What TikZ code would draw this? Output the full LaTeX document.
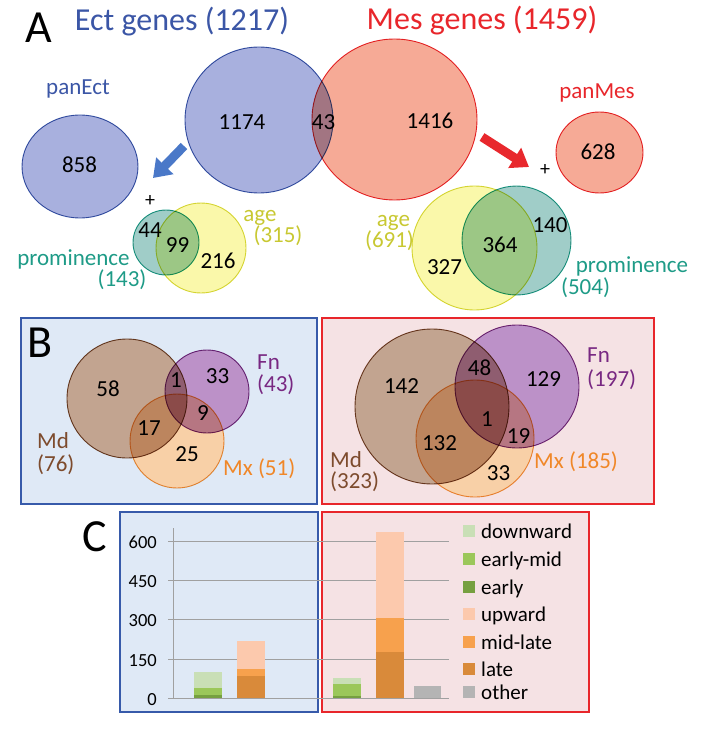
\documentclass[tikz,border=0pt]{standalone}
\usepackage{fontspec}
\setmainfont{Carlito}
\usetikzlibrary{shapes.geometric,arrows.meta}
\definecolor{ectfill}{RGB}{168,176,222}
\definecolor{ectline}{RGB}{60,90,170}
\definecolor{ecttext}{RGB}{59,86,166}
\definecolor{mesfill}{RGB}{246,170,150}
\definecolor{mesline}{RGB}{232,40,45}
\definecolor{mestext}{RGB}{232,38,43}
\definecolor{tealfill}{RGB}{160,205,200}
\definecolor{tealline}{RGB}{30,160,140}
\definecolor{tealtext}{RGB}{30,155,135}
\definecolor{yelfill}{RGB}{250,248,170}
\definecolor{yelline}{RGB}{215,215,60}
\definecolor{yeltext}{RGB}{200,200,50}
\definecolor{bluebox}{RGB}{223,233,246}
\definecolor{blueboxline}{RGB}{55,90,170}
\definecolor{redbox}{RGB}{245,226,228}
\definecolor{redboxline}{RGB}{232,38,43}
\definecolor{mdfill}{RGB}{194,164,144}
\definecolor{mdline}{RGB}{120,70,40}
\definecolor{mdtext}{RGB}{125,75,45}
\definecolor{fnfill}{RGB}{188,145,200}
\definecolor{fnline}{RGB}{125,45,130}
\definecolor{fntext}{RGB}{120,40,130}
\definecolor{mxfill}{RGB}{248,208,167}
\definecolor{mxline}{RGB}{240,150,60}
\definecolor{mxtext}{RGB}{240,135,40}
\definecolor{cdown}{RGB}{201,223,182}
\definecolor{cearlymid}{RGB}{155,199,90}
\definecolor{cearly}{RGB}{118,160,64}
\definecolor{cup}{RGB}{252,201,173}
\definecolor{cmidlate}{RGB}{247,161,77}
\definecolor{clate}{RGB}{217,138,58}
\definecolor{cother}{RGB}{180,180,180}
\definecolor{gridc}{RGB}{160,160,160}
\definecolor{arrblue}{RGB}{74,120,200}
\begin{document}
\begin{tikzpicture}[x=1pt,y=-1pt,
  venn/.style={ellipse, inner sep=0pt, outer sep=0pt, line width=0.9pt},
  num/.style={anchor=base, font=\fontsize{23}{27}\selectfont, text=black, inner sep=0pt},
  lab/.style={anchor=base, font=\fontsize{23}{27}\selectfont, inner sep=0pt},
  labw/.style={anchor=base west, font=\fontsize{23}{27}\selectfont, inner sep=0pt},
  title/.style={anchor=base, font=\fontsize{32}{36}\selectfont, inner sep=0pt},
  panel/.style={anchor=base, font=\fontsize{46}{50}\selectfont, inner sep=0pt},
  tick/.style={anchor=base east, font=\fontsize{18.5}{22}\selectfont, inner sep=0pt},
  legtext/.style={anchor=base west, font=\fontsize{21}{25}\selectfont, inner sep=0pt},
  legbox/.style={minimum size=12pt, inner sep=0pt, outer sep=0pt},
  bigarrow/.style={line width=9pt, -{Triangle[width=23pt,length=17pt]}},
  box/.style={line width=1.8pt}
]
\useasboundingbox (0,0) rectangle (704,730);

% ---------- Panel A ----------
\node[panel] (pA) at (39,43) {A};
\node[title, text=ecttext] (ecttitle) at (182,31) {Ect genes (1217)};
\node[title, text=mestext] (mestitle) at (482,30) {Mes genes (1459)};

\begin{scope}[blend mode=multiply]
\node[venn, fill=ectfill, draw=ectline, minimum width=148pt, minimum height=146pt] (ect) at (259,120) {};
\node[venn, fill=mesfill, draw=mesline, minimum width=165pt, minimum height=161pt] (mes) at (394.5,119.5) {};
\node[venn, fill=ectfill, draw=ectline, minimum width=116pt, minimum height=103pt] (panect) at (80,166.5) {};
\node[venn, fill=mesfill, draw=mesline, minimum width=87pt, minimum height=81pt] (panmes) at (599.5,152.5) {};
\node[venn, fill=yelfill, draw=yelline, minimum width=90pt, minimum height=90pt] (ectage) at (201,248) {};
\node[venn, fill=tealfill, draw=tealline, minimum width=66pt, minimum height=65pt] (ectprom) at (166,242.5) {};
\node[venn, fill=yelfill, draw=yelline, minimum width=125pt, minimum height=124pt] (mesage) at (474.5,248) {};
\node[venn, fill=tealfill, draw=tealline, minimum width=109pt, minimum height=109pt] (mesprom) at (516.5,240.5) {};
\end{scope}

\node[num] (n1174) at (242,130) {1174};
\node[num] (n43) at (323.5,130) {43};
\node[num] (n1416) at (430,129) {1416};
\node[num] (n858) at (79.5,172.5) {858};
\node[num] (n628) at (598,160) {628};
\node[num] (n44) at (150,237) {44};
\node[num] (n99) at (177.5,252) {99};
\node[num] (n216) at (218,268) {216};
\node[num] (n140) at (550,232) {140};
\node[num] (n364) at (500,252) {364};
\node[num] (n327) at (444.5,274) {327};

\node[lab, text=ecttext] (lpanect) at (78,95) {panEct};
\node[lab, text=mestext] (lpanmes) at (597,99) {panMes};
\node[lab, text=yeltext] (lectage) at (260,221) {age};
\node[lab, text=yeltext] (lectage2) at (278,242) {(315)};
\node[lab, text=tealtext] (lectprom) at (73.5,265) {prominence};
\node[lab, text=tealtext] (lectprom2) at (122,286) {(143)};
\node[lab, text=yeltext] (lmesage) at (393.5,226) {age};
\node[lab, text=yeltext] (lmesage2) at (389.5,247) {(691)};
\node[lab, text=tealtext] (lmesprom) at (632,272) {prominence};
\node[lab, text=tealtext] (lmesprom2) at (585.5,294) {(504)};

\node[font=\fontsize{20}{24}\selectfont, inner sep=0pt] (plus1) at (150,201) {+};
\node[font=\fontsize{20}{24}\selectfont, inner sep=0pt] (plus2) at (545,170) {+};

\coordinate (ea1) at (184,146);
\coordinate (ea2) at (153,178);
\coordinate (ma1) at (482,137);
\coordinate (ma2) at (529,167);
\draw[bigarrow, arrblue] (ea1) -- (ea2);
\draw[bigarrow, mesline] (ma1) -- (ma2);

% ---------- Panel B ----------
\draw[box, fill=bluebox, draw=blueboxline] (21,318) rectangle (317,504);
\draw[box, fill=redbox, draw=redboxline] (322,318) rectangle (654,504);
\node[panel] (pB) at (40,357) {B};

% white underlay so that circle colours are not tinted by the boxes
\fill[white] (127,398.5) ellipse[x radius=60pt, y radius=59.5pt];
\fill[white] (207,391.5) ellipse[x radius=42pt, y radius=41.5pt];
\fill[white] (177,441) circle[radius=47pt];
\fill[white] (432,406.5) ellipse[x radius=77pt, y radius=77.5pt];
\fill[white] (517,386.5) ellipse[x radius=62pt, y radius=61.5pt];
\fill[white] (475,438.5) ellipse[x radius=59pt, y radius=58.5pt];

\begin{scope}[blend mode=multiply]
\node[venn, fill=mdfill, draw=mdline, minimum width=120pt, minimum height=119pt] (emd) at (127,398.5) {};
\node[venn, fill=fnfill, draw=fnline, minimum width=84pt, minimum height=83pt] (efn) at (207,391.5) {};
\node[venn, fill=mxfill, draw=mxline, minimum width=94pt, minimum height=94pt] (emx) at (177,441) {};
\node[venn, fill=mdfill, draw=mdline, minimum width=154pt, minimum height=155pt] (mmd) at (432,406.5) {};
\node[venn, fill=fnfill, draw=fnline, minimum width=124pt, minimum height=123pt] (mfn) at (517,386.5) {};
\node[venn, fill=mxfill, draw=mxline, minimum width=118pt, minimum height=117pt] (mmx) at (475,438.5) {};
\end{scope}

\node[num] (b58) at (108,396) {58};
\node[num] (b1) at (176,387) {1};
\node[num] (b33) at (217.5,383) {33};
\node[num] (b9) at (203,420) {9};
\node[num] (b17) at (149,435) {17};
\node[num] (b25) at (187,461) {25};
\node[labw, text=mdtext] (bmd) at (37,448) {Md};
\node[labw, text=mdtext] (bmd2) at (37,471) {(76)};
\node[labw, text=fntext] (bfn) at (257,369) {Fn};
\node[labw, text=fntext] (bfn2) at (257,391) {(43)};
\node[labw, text=mxtext] (bmx) at (223,475) {Mx (51)};

\node[num] (c142) at (401.5,393) {142};
\node[num] (c48) at (479.5,375) {48};
\node[num] (c129) at (543.5,386) {129};
\node[num] (c1) at (487,426) {1};
\node[num] (c19) at (518.5,443) {19};
\node[num] (c132) at (439.5,450) {132};
\node[num] (c33) at (498.5,480) {33};
\node[labw, text=mdtext] (cmd) at (330,467) {Md};
\node[labw, text=mdtext] (cmd2) at (330,488) {(323)};
\node[labw, text=fntext] (cfn) at (587,362) {Fn};
\node[labw, text=fntext] (cfn2) at (587,386) {(197)};
\node[labw, text=mxtext] (cmx) at (534,468) {Mx (185)};

% ---------- Panel C ----------
\node[panel] (pC) at (95,551) {C};
\draw[box, fill=bluebox, draw=blueboxline] (120,512) rectangle (318,712);
\draw[box, fill=redbox, draw=redboxline] (322,512) rectangle (589,712);

\foreach \yy in {541,580,619,659,698} {
  \draw[gridc, line width=1pt] (168,\yy) -- (449,\yy);
}
\draw[gridc, line width=1pt] (173,528) -- (173,698);
\node[tick] (t600) at (157,548) {600};
\node[tick] (t450) at (157,587) {450};
\node[tick] (t300) at (157,626) {300};
\node[tick] (t150) at (157,666) {150};
\node[tick] (t0) at (157,705) {0};

% Ect bars
\fill[cearly] (194,698) rectangle (222,695);
\fill[cearlymid] (194,695) rectangle (222,688);
\fill[cdown] (194,688) rectangle (222,672);
\fill[clate] (237,698) rectangle (265,676);
\fill[cmidlate] (237,676) rectangle (265,669);
\fill[cup] (237,669) rectangle (265,641);
% Mes bars
\fill[cearly] (333,698) rectangle (361,696);
\fill[cearlymid] (333,696) rectangle (361,684);
\fill[cdown] (333,684) rectangle (361,678);
\fill[clate] (376,698) rectangle (404,652);
\fill[cmidlate] (376,652) rectangle (404,618);
\fill[cup] (376,618) rectangle (404,532);
\fill[cother] (414,698) rectangle (441,686);

% legend
\node[legbox, fill=cdown] (k1) at (469,531) {};
\node[legbox, fill=cearlymid] (k2) at (469,559) {};
\node[legbox, fill=cearly] (k3) at (469,587) {};
\node[legbox, fill=cup] (k4) at (469,614) {};
\node[legbox, fill=cmidlate] (k5) at (469,642) {};
\node[legbox, fill=clate] (k6) at (469,669) {};
\node[legbox, fill=cother] (k7) at (469,692) {};
\node[legtext] (l1) at (481,538) {downward};
\node[legtext] (l2) at (481,566) {early-mid};
\node[legtext] (l3) at (481,594) {early};
\node[legtext] (l4) at (481,621) {upward};
\node[legtext] (l5) at (481,649) {mid-late};
\node[legtext] (l6) at (481,676) {late};
\node[legtext] (l7) at (481,699) {other};
\end{tikzpicture}
\end{document}
